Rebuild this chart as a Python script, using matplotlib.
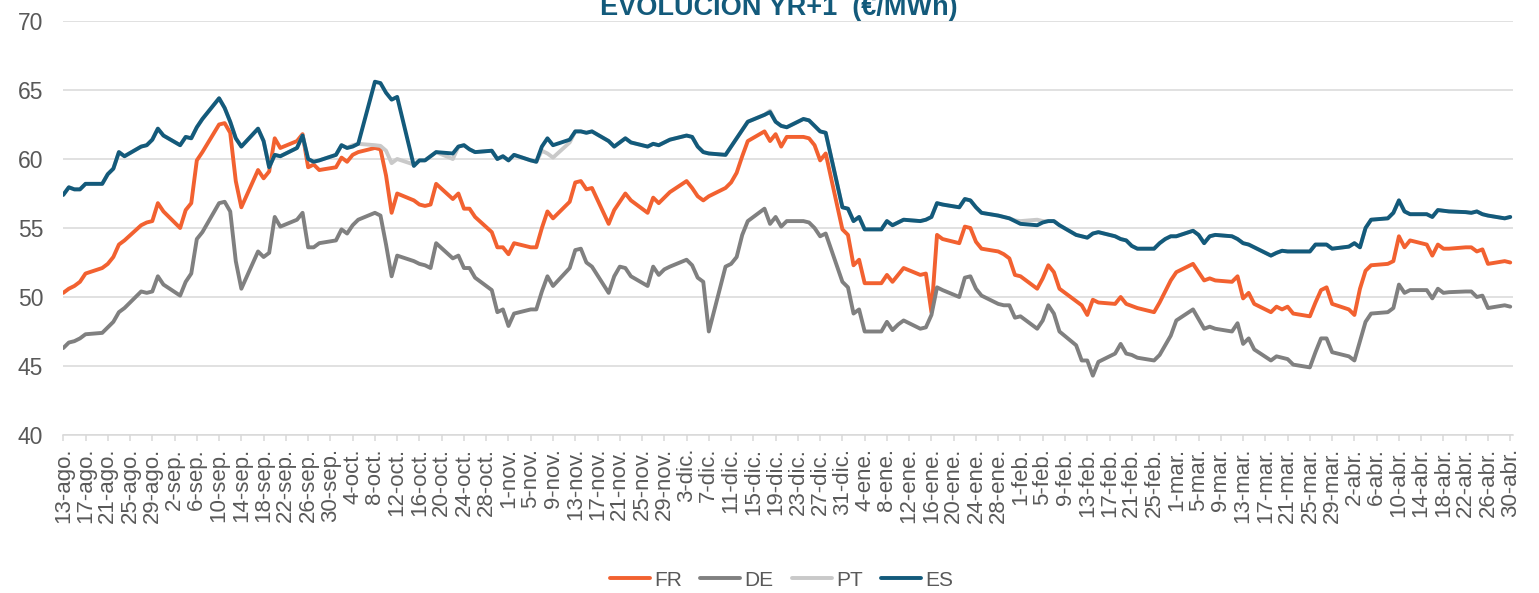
import matplotlib
matplotlib.use("Agg")
import matplotlib.pyplot as plt
import matplotlib.dates as mdates
import pandas as pd

plt.rcParams['font.family'] = ['Liberation Sans', 'DejaVu Sans']

# ---------------- data (business days 13-ago-2018 .. 30-abr-2019) ----------------
start_date = '2018-08-13'
end_date = '2019-04-30'
series_names = ['FR', 'DE', 'PT', 'ES']
month_abbr = ['ene', 'feb', 'mar', 'abr', 'may', 'jun',
              'jul', 'ago', 'sep', 'oct', 'nov', 'dic']
title_text = 'EVOLUCIÓN YR+1  (€/MWh)'

fr = [50.3, 50.6, 50.8, 51.1, 51.7,
      52.1, 52.4, 52.9, 53.8, 54.1,
      55.2, 55.4, 55.5, 56.8, 56.2,
      55.0, 56.3, 56.8, 59.9, 60.5,
      62.5, 62.6, 61.9, 58.4, 56.5,
      59.2, 58.6, 59.1, 61.5, 60.8,
      61.3, 61.8, 59.4, 59.6, 59.2,
      59.4, 60.1, 59.8, 60.3, 60.5,
      60.8, 60.7, 58.8, 56.1, 57.5,
      57.0, 56.7, 56.6, 56.7, 58.2,
      57.1, 57.5, 56.4, 56.4, 55.8,
      54.7, 53.6, 53.6, 53.1, 53.9,
      53.6, 53.6, 55.0, 56.2, 55.7,
      56.9, 58.3, 58.4, 57.8, 57.9,
      55.3, 56.3, 56.9, 57.5, 57.0,
      56.1, 57.2, 56.8, 57.2, 57.6,
      58.4, 57.9, 57.3, 57.0, 57.3,
      57.9, 58.3, 59.0, 60.2, 61.3,
      62.0, 61.3, 61.8, 60.9, 61.6,
      61.6, 61.5, 61.0, 59.9, 60.4,
      54.9, 54.5, 52.3, 52.7, 51.0,
      51.0, 51.6, 51.1, 51.6, 52.1,
      51.6, 51.7, 48.9, 54.5, 54.2,
      53.9, 55.1, 55.0, 54.0, 53.5,
      53.3, 53.1, 52.8, 51.6, 51.5,
      50.6, 51.35, 52.3, 51.8, 50.6,
      49.7, 49.4, 48.7, 49.8, 49.6,
      49.5, 50.0, 49.5, 49.35, 49.2,
      48.9, 49.6, 50.4, 51.2, 51.8,
      52.4, 51.8, 51.2, 51.35, 51.2,
      51.1, 51.5, 49.9, 50.3, 49.5,
      48.9, 49.3, 49.1, 49.3, 48.8,
      48.6, 49.6, 50.5, 50.7, 49.5,
      49.1, 48.7, 50.6, 51.9, 52.3,
      52.4, 52.6, 54.4, 53.6, 54.1,
      53.8, 53.0, 53.8, 53.5, 53.5,
      53.6, 53.6, 53.3, 53.45, 52.4,
      52.6, 52.5]

de = [46.3, 46.7, 46.8, 47.0, 47.3,
      47.4, 47.8, 48.2, 48.9, 49.2,
      50.4, 50.3, 50.4, 51.5, 50.9,
      50.1, 51.1, 51.7, 54.2, 54.7,
      56.8, 56.9, 56.2, 52.6, 50.6,
      53.3, 52.9, 53.2, 55.8, 55.1,
      55.6, 56.1, 53.6, 53.6, 53.9,
      54.1, 54.9, 54.6, 55.2, 55.6,
      56.1, 55.9, 53.8, 51.5, 53.0,
      52.6, 52.4, 52.3, 52.1, 53.9,
      52.8, 53.0, 52.1, 52.1, 51.4,
      50.5, 48.9, 49.1, 47.9, 48.8,
      49.1, 49.1, 50.4, 51.5, 50.8,
      52.1, 53.4, 53.5, 52.5, 52.2,
      50.3, 51.5, 52.2, 52.1, 51.5,
      50.8, 52.2, 51.6, 52.0, 52.2,
      52.7, 52.3, 51.4, 51.1, 47.5,
      52.2, 52.4, 52.9, 54.5, 55.5,
      56.4, 55.3, 55.8, 55.1, 55.5,
      55.5, 55.4, 55.0, 54.4, 54.6,
      51.1, 50.7, 48.8, 49.1, 47.5,
      47.5, 48.2, 47.6, 48.0, 48.3,
      47.7, 47.8, 48.7, 50.7, 50.5,
      50.0, 51.4, 51.5, 50.6, 50.1,
      49.5, 49.4, 49.4, 48.5, 48.6,
      47.7, 48.3, 49.4, 48.8, 47.5,
      46.5, 45.4, 45.4, 44.3, 45.3,
      45.9, 46.6, 45.9, 45.8, 45.6,
      45.4, 45.8, 46.5, 47.2, 48.3,
      49.1, 48.4, 47.7, 47.85, 47.7,
      47.5, 48.1, 46.6, 47.0, 46.2,
      45.4, 45.7, 45.6, 45.5, 45.1,
      44.9, 46.0, 47.0, 47.0, 46.0,
      45.7, 45.4, 46.8, 48.2, 48.8,
      48.9, 49.2, 50.9, 50.3, 50.5,
      50.5, 49.9, 50.6, 50.3, 50.35,
      50.4, 50.4, 50.0, 50.1, 49.2,
      49.4, 49.3]

pt = [57.4, 57.95, 57.8, 57.8, 58.2,
      58.2, 58.9, 59.3, 60.5, 60.2,
      60.9, 61.0, 61.4, 62.2, 61.7,
      61.0, 61.6, 61.5, 62.3, 62.9,
      64.4, 63.7, 62.7, 61.5, 60.9,
      62.2, 61.3, 59.4, 60.3, 60.2,
      60.8, 61.7, 60.0, 59.8, 59.9,
      60.3, 61.0, 60.8, 61.0, 61.1,
      61.0, 60.95, 60.6, 59.7, 60.0,
      59.6, 59.9, 59.9, 60.2, 60.5,
      60.0, 60.9, 61.0, 60.7, 60.5,
      60.6, 60.0, 60.2, 59.9, 60.3,
      59.9, 59.8, 60.6, 60.4, 60.1,
      61.2, 62.0, 62.0, 61.9, 62.0,
      61.3, 60.9, 61.2, 61.5, 61.2,
      60.9, 61.1, 61.0, 61.2, 61.4,
      61.7, 61.6, 60.9, 60.5, 60.4,
      60.3, 60.9, 61.5, 62.1, 62.7,
      63.2, 63.5, 62.7, 62.4, 62.3,
      62.9, 62.8, 62.4, 62.0, 61.9,
      56.5, 56.4, 55.5, 55.8, 54.9,
      54.9, 55.5, 55.2, 55.4, 55.6,
      55.5, 55.6, 55.8, 56.8, 56.7,
      56.5, 57.1, 57.0, 56.5, 56.1,
      55.9, 55.8, 55.7, 55.55, 55.5,
      55.6, 55.5, 55.5, 55.5, 55.2,
      54.5, 54.4, 54.3, 54.6, 54.7,
      54.4, 54.2, 54.1, 53.7, 53.5,
      53.5, 53.9, 54.2, 54.4, 54.4,
      54.8, 54.5, 53.9, 54.4, 54.5,
      54.4, 54.2, 53.9, 53.8, 53.6,
      53.0, 53.2, 53.35, 53.3, 53.3,
      53.3, 53.8, 53.8, 53.8, 53.5,
      53.65, 53.9, 53.6, 55.0, 55.6,
      55.7, 56.1, 57.0, 56.2, 56.0,
      56.0, 55.8, 56.3, 56.25, 56.2,
      56.15, 56.1, 56.2, 56.0, 55.9,
      55.7, 55.8]

es = [57.4, 57.95, 57.8, 57.8, 58.2,
      58.2, 58.9, 59.3, 60.5, 60.2,
      60.9, 61.0, 61.4, 62.2, 61.7,
      61.0, 61.6, 61.5, 62.3, 62.9,
      64.4, 63.7, 62.7, 61.5, 60.9,
      62.2, 61.3, 59.4, 60.3, 60.2,
      60.8, 61.7, 60.0, 59.8, 59.9,
      60.3, 61.0, 60.8, 60.9, 61.1,
      65.6, 65.5, 64.8, 64.3, 64.5,
      59.5, 59.9, 59.9, 60.2, 60.5,
      60.4, 60.9, 61.0, 60.7, 60.5,
      60.6, 60.0, 60.2, 59.9, 60.3,
      59.9, 59.8, 60.9, 61.5, 61.0,
      61.4, 62.0, 62.0, 61.9, 62.0,
      61.3, 60.9, 61.2, 61.5, 61.2,
      60.9, 61.1, 61.0, 61.2, 61.4,
      61.7, 61.6, 60.9, 60.5, 60.4,
      60.3, 60.9, 61.5, 62.1, 62.7,
      63.2, 63.4, 62.7, 62.4, 62.3,
      62.9, 62.8, 62.4, 62.0, 61.9,
      56.5, 56.4, 55.5, 55.8, 54.9,
      54.9, 55.5, 55.2, 55.4, 55.6,
      55.5, 55.6, 55.8, 56.8, 56.7,
      56.5, 57.1, 57.0, 56.5, 56.1,
      55.9, 55.8, 55.7, 55.5, 55.3,
      55.2, 55.4, 55.5, 55.5, 55.2,
      54.5, 54.4, 54.3, 54.6, 54.7,
      54.4, 54.2, 54.1, 53.7, 53.5,
      53.5, 53.9, 54.2, 54.4, 54.4,
      54.8, 54.5, 53.9, 54.4, 54.5,
      54.4, 54.2, 53.9, 53.8, 53.6,
      53.0, 53.2, 53.35, 53.3, 53.3,
      53.3, 53.8, 53.8, 53.8, 53.5,
      53.65, 53.9, 53.6, 55.0, 55.6,
      55.7, 56.1, 57.0, 56.2, 56.0,
      56.0, 55.8, 56.3, 56.25, 56.2,
      56.15, 56.1, 56.2, 56.0, 55.9,
      55.7, 55.8]

colors = {'FR': '#F26130', 'DE': '#808080', 'PT': '#C9C9C9', 'ES': '#135A7B'}
values = {'FR': fr, 'DE': de, 'PT': pt, 'ES': es}

dates = pd.bdate_range(start_date, end_date)
for k, v in values.items():
    assert len(v) == len(dates), (k, len(v), len(dates))

W, H = 1539, 593
fig = plt.figure(figsize=(W / 100, H / 100), dpi=100)
ax = fig.add_axes([62.7 / W, 1 - 435 / H, (1513.3 - 62.7) / W, (435 - 21) / H])

for name in series_names:
    ax.plot(dates, values[name], color=colors[name], lw=2.8, label=name,
            solid_joinstyle='round', solid_capstyle='round')

x0 = mdates.date2num(pd.Timestamp(start_date))
ax.set_xlim(x0 - 0.1, x0 + 260.55)
ax.set_ylim(40, 70)
ax.set_yticks(range(40, 71, 5))

tick_dates = pd.date_range(start_date, end_date, freq='4D')
ax.set_xticks(tick_dates)
ax.set_xticklabels([f"{d.day}-{month_abbr[d.month - 1]}." for d in tick_dates],
                   rotation=90)

ax.grid(axis='y', color='#D9D9D9', lw=1.1)
ax.set_axisbelow(True)
for s in ['top', 'right', 'left']:
    ax.spines[s].set_visible(False)
ax.spines['bottom'].set_color('#D9D9D9')
ax.spines['bottom'].set_linewidth(1.1)

ax.tick_params(axis='x', direction='out', length=4.3, width=1.1, color='#D9D9D9',
               labelsize=16, labelcolor='#595959', pad=5)
ax.tick_params(axis='y', length=0, pad=14, labelsize=16.5, labelcolor='#595959')

fig.text(779 / W, 1 - 15 / H, title_text, ha='center', va='baseline',
         fontsize=19.5, fontweight='bold', color='#135A7B')

leg = fig.legend(loc='center', bbox_to_anchor=(781.5 / W, 1 - 580 / H), ncol=4,
                 frameon=False, fontsize=15, handlelength=1.9, handletextpad=0.2,
                 columnspacing=0.9, borderaxespad=0)
for t in leg.get_texts():
    t.set_color('#595959')

fig.savefig('out.png', dpi=100)
